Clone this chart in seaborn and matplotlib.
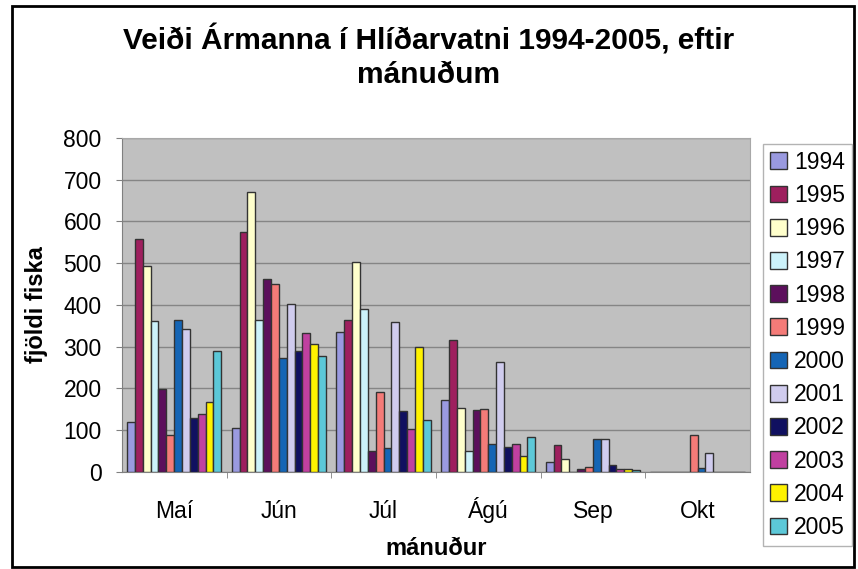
import pandas as pd
import seaborn as sns
import matplotlib.pyplot as plt
import matplotlib.patches as mpatches
from matplotlib.ticker import MultipleLocator, FixedLocator

# Data
months = ['Maí', 'Jún', 'Júl', 'Ágú', 'Sep', 'Okt']
years = ['1994', '1995', '1996', '1997', '1998', '1999',
         '2000', '2001', '2002', '2003', '2004', '2005']

c1994 = [120, 105, 335, 172, 24, 0]
c1995 = [558, 576, 363, 315, 64, 0]
c1996 = [493, 670, 503, 153, 30, 0]
c1997 = [361, 365, 391, 51, 0, 0]
c1998 = [199, 463, 51, 149, 8, 0]
c1999 = [89, 450, 192, 151, 12, 88]
c2000 = [365, 273, 57, 67, 78, 10]
c2001 = [342, 403, 359, 263, 78, 46]
c2002 = [129, 289, 145, 61, 17, 0]
c2003 = [139, 333, 103, 67, 6, 0]
c2004 = [167, 307, 299, 38, 6, 0]
c2005 = [289, 279, 125, 84, 5, 0]

counts = [c1994, c1995, c1996, c1997, c1998, c1999,
          c2000, c2001, c2002, c2003, c2004, c2005]

colors = ['#9A9AE0', '#9E1F5E', '#FFFFCC', '#CCF2FA', '#5C0F5C', '#F47B78',
          '#1565B5', '#D0CCEE', '#101060', '#C040A0', '#FFF200', '#5CC8D8']

# Long form table for seaborn
rows = []
for y, vals in zip(years, counts):
    for m, v in zip(months, vals):
        rows.append({'month': m, 'year': y, 'count': v})
df = pd.DataFrame(rows)

plt.rcParams['font.family'] = ['Liberation Sans', 'DejaVu Sans']

fig = plt.figure(figsize=(8.58, 5.69), dpi=100)
ax = fig.add_axes([0.142, 0.1705, 0.732, 0.587])
ax.set_facecolor('#C0C0C0')

sns.barplot(data=df, x='month', y='count', hue='year', order=months,
            hue_order=years, palette=colors, width=0.9, saturation=1,
            edgecolor='#333333', linewidth=1, ax=ax, legend=False, zorder=3)

ax.set_ylim(0, 800)
ax.set_xlim(-0.5, 5.5)
ax.yaxis.set_major_locator(MultipleLocator(100))
ax.grid(axis='y', color='#858585', linewidth=1, zorder=0)
ax.set_axisbelow(True)

ax.xaxis.set_minor_locator(FixedLocator([0.5, 1.5, 2.5, 3.5, 4.5]))
ax.tick_params(axis='x', which='major', length=0, pad=33, labelsize=16.5)
ax.tick_params(axis='x', which='minor', length=4.5, color='#808080')
ax.tick_params(axis='y', length=4.5, color='#808080', labelsize=16.5, pad=10)
for lab in ax.get_xticklabels():
    lab.set_va('baseline')

for s in ['left', 'bottom']:
    ax.spines[s].set_color('#808080')
for s in ['top', 'right']:
    ax.spines[s].set_color('#A8A8A8')

ax.set_xlabel('mánuður', fontsize=17, fontweight='bold', va='baseline')
ax.xaxis.set_label_coords(0.5, -0.2485)
ax.set_ylabel('fjöldi fiska', fontsize=17, fontweight='bold', va='center')
ax.yaxis.set_label_coords(-0.136, 0.5)

fig.text(0.5, 0.90, 'Veiði Ármanna í Hlíðarvatni 1994-2005, eftir\nmánuðum',
         ha='center', va='center', fontsize=21.5, fontweight='bold',
         linespacing=1.22)

handles = [mpatches.Patch(facecolor=c, edgecolor='#333333', linewidth=1)
           for c in colors]
leg = fig.legend(handles, years, loc='upper left',
                 bbox_to_anchor=(763 / 858, 1 - 144 / 569),
                 bbox_transform=fig.transFigure,
                 borderaxespad=0, fontsize=16.5, handlelength=0.75,
                 handleheight=0.75, handletextpad=0.3, labelspacing=0.445,
                 borderpad=0.3, fancybox=False, frameon=True)
leg.get_frame().set_edgecolor('#A0A0A0')
leg.get_frame().set_linewidth(1)

# outer frame
fig.patches.append(mpatches.Rectangle((12 / 858, 0.003), 842 / 858, 0.986,
                                      transform=fig.transFigure, fill=False,
                                      edgecolor='black', linewidth=2))

fig.savefig('out.png', dpi=100)
